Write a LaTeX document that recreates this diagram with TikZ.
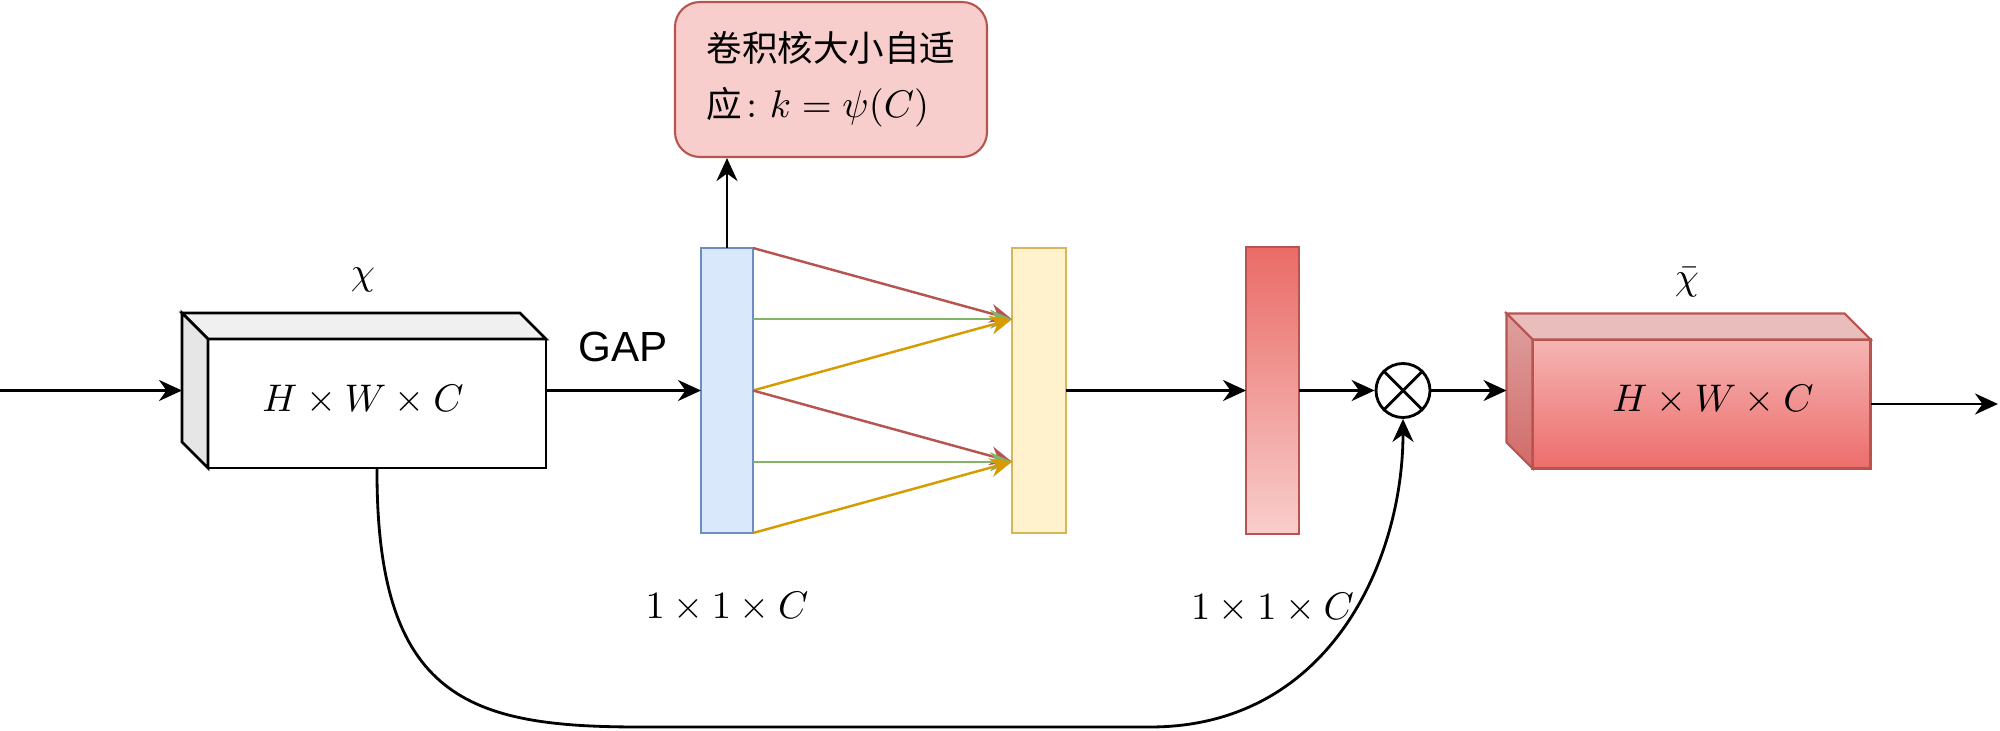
\documentclass[tikz,border=0pt]{standalone}
\usepackage{fontspec}
\usepackage{amsmath}
\usetikzlibrary{arrows.meta, positioning, calc}
\newfontfamily\cjkfont{Noto Sans CJK SC}[Scale=0.92]
\newfontfamily\gapfont{Liberation Sans}
\definecolor{barblue}{HTML}{DAE8FC}
\definecolor{edgeblue}{HTML}{6C8EBF}
\definecolor{baryellow}{HTML}{FFF2CC}
\definecolor{edgeyellow}{HTML}{D6B656}
\definecolor{barred}{HTML}{EA6B66}
\definecolor{barpink}{HTML}{F8CECC}
\definecolor{edgered}{HTML}{B85450}
\definecolor{arrgreen}{HTML}{82B366}
\definecolor{arrgold}{HTML}{D79B00}
\definecolor{topgray}{HTML}{F0F0F0}
\definecolor{sidegray}{HTML}{E6E6E6}
\definecolor{fronttop}{HTML}{F5B5B4}
\definecolor{frontbot}{HTML}{EC6D6B}
\definecolor{toppink}{HTML}{E8BDBC}
\definecolor{sidetop}{HTML}{DEA09F}
\definecolor{sidebot}{HTML}{D26B69}
\tikzset{
  basebar/.style={rectangle,line width=0.6pt,minimum width=0.52cm,minimum height=2.85cm,inner sep=0pt,outer sep=0pt},
  gapbar/.style={basebar,fill=barblue,draw=edgeblue},
  convbar/.style={basebar,fill=baryellow,draw=edgeyellow,minimum width=0.54cm},
  wgtbar/.style={basebar,draw=edgered,top color=barred,bottom color=barpink,minimum width=0.53cm,minimum height=2.87cm},
  frontface/.style={rectangle,draw=black,line width=0.8pt,minimum width=3.38cm,minimum height=1.29cm,inner sep=0pt,outer sep=0pt},
  faceline/.style={draw=black,line width=0.8pt},
  redface/.style={draw=edgered,line width=0.6pt},
  mulnode/.style={circle,draw=black,line width=0.8pt,minimum size=0.54cm,inner sep=0pt},
  kernelbox/.style={rectangle,rounded corners=0.25cm,draw=edgered,fill=barpink,line width=0.6pt,
    minimum width=3.12cm,minimum height=1.55cm,align=left,font=\fontsize{11}{16}\selectfont},
  dimlabel/.style={font=\fontsize{10.6}{12}\selectfont,inner sep=1pt},
  arr/.style={-{Stealth[length=2.3mm,width=2.1mm]},line width=0.8pt,color=black},
  colarr/.style={-{Stealth[length=2.2mm,width=1.9mm]},line width=0.7pt},
  redarr/.style={colarr,color=edgered},
  greenarr/.style={colarr,color=arrgreen},
  goldarr/.style={colarr,color=arrgold}
}

\begin{document}
\begin{tikzpicture}
  \useasboundingbox (0,0) rectangle (20,7.3);
  % input feature map
  \node[frontface,fill=white] (feat) at (3.77,3.265) {};
  \filldraw[faceline,fill=topgray] (feat.north west) -- ++(-0.26,0.26) -- ([shift={(-0.26,0.26)}]feat.north east) -- (feat.north east) -- cycle;
  \filldraw[faceline,fill=sidegray] (feat.north west) -- ++(-0.26,0.26) -- ([shift={(-0.26,0.26)}]feat.south west) -- (feat.south west) -- cycle;
  \coordinate (featback) at ([xshift=-0.26cm]feat.west);
  \node[dimlabel] (featdim) at (3.63,3.30) {$H\times W\times C$};
  \node[dimlabel] (featname) at (3.63,4.50) {$\chi$};
  % bars
  \node[gapbar] (gap) at (7.27,3.395) {};
  \node[convbar] (conv) at (10.39,3.395) {};
  \node[wgtbar] (wgt) at (12.725,3.395) {};
  \node[dimlabel,below=0.55cm of gap] (gapdim) {$1\times 1\times C$};
  \node[dimlabel,below=0.55cm of wgt] (wgtdim) {$1\times 1\times C$};
  \node[kernelbox] (kbox) at (8.31,6.505) {{\cjkfont 卷积核大小自适}\\{\cjkfont 应}$\colon k=\psi(C)$};
  % multiply
  \node[mulnode] (mul) at (14.03,3.395) {};
  \draw[line width=0.8pt] (mul.north west) -- (mul.south east) (mul.north east) -- (mul.south west);
  % output feature map
  \node[frontface,draw=edgered,line width=0.6pt,top color=fronttop,bottom color=frontbot] (outfeat) at (17.015,3.26) {};
  \filldraw[redface,fill=toppink] (outfeat.north west) -- ++(-0.26,0.26) -- ([shift={(-0.26,0.26)}]outfeat.north east) -- (outfeat.north east) -- cycle;
  \path[redface,top color=sidetop,bottom color=sidebot] (outfeat.north west) -- ++(-0.26,0.26) -- ([shift={(-0.26,0.26)}]outfeat.south west) -- (outfeat.south west) -- cycle;
  \coordinate (outback) at ([xshift=-0.26cm]outfeat.west);
  \node[dimlabel] (outdim) at (17.13,3.30) {$H\times W\times C$};
  \node[dimlabel] (outname) at (16.87,4.48) {$\bar{\chi}$};
  % connectors
  \coordinate (src) at (0,3.395);
  \coordinate (sink) at (19.98,3.26);
  \draw[arr] (src) -- (featback |- src);
  \draw[arr] (feat.east |- gap.west) -- (gap.west)
    node[midway,above=0.15cm,font=\gapfont\fontsize{12}{14}\selectfont] {GAP};
  \draw[arr] (gap.north) -- (gap.north |- kbox.south);
  \foreach \f/\t/\c in {0/0.25/redarr,0.25/0.25/greenarr,0.5/0.25/goldarr,0.5/0.75/redarr,0.75/0.75/greenarr,1/0.75/goldarr}
    \draw[\c] ($(gap.north east)!\f!(gap.south east)$) -- ($(conv.north west)!\t!(conv.south west)$);
  \draw[arr] (conv.east) -- (wgt.west);
  \draw[arr] (wgt.east) -- (mul.west);
  \draw[arr] (mul.east) -- (outback |- mul.east);
  \draw[arr] (outfeat.east) -- (sink);
  \draw[arr] (feat.south) .. controls (3.76,0.30) and (4.70,0.03) .. (6.40,0.03)
    -- (11.50,0.03) .. controls (13.30,0.03) and (14.03,1.70) .. (mul.south);
\end{tikzpicture}
\end{document}
